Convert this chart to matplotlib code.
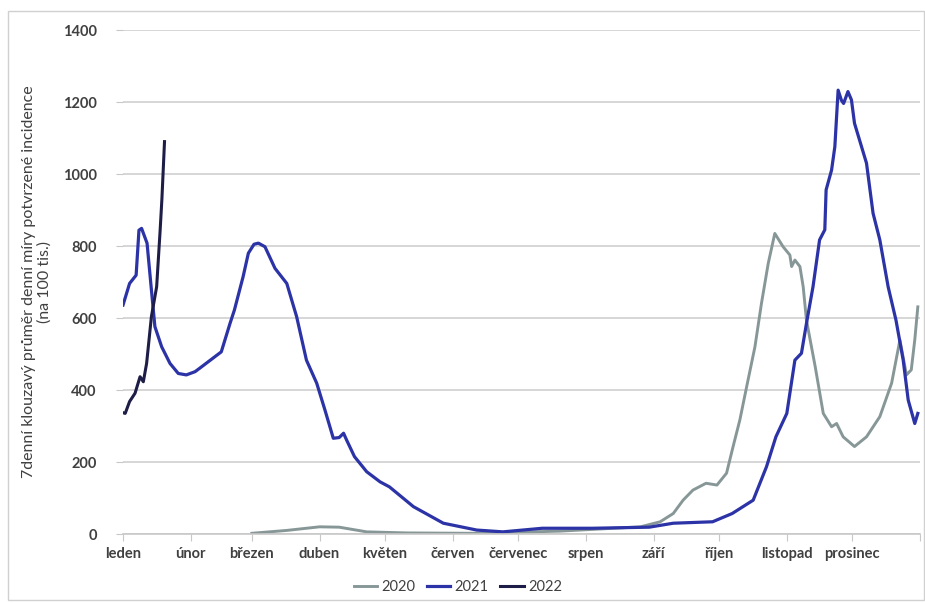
import matplotlib.pyplot as plt
import matplotlib.patches as patches

plt.rcParams['font.family'] = ['Lato', 'DejaVu Sans']

months = ['leden', 'únor', 'březen', 'duben', 'květen', 'červen', 'červenec',
          'srpen', 'září', 'říjen', 'listopad', 'prosinec']
month_start = [0, 31, 59, 90, 120, 151, 181, 212, 243, 273, 304, 334]

# den v roce / hodnota
days_2020 = [59, 75, 90, 99, 111.6, 130, 160, 200, 237, 246, 252, 256.5, 261, 267, 272,
             276.4, 279.4, 282.5, 285.6, 289.4, 292.4, 295.5, 298.5, 302.3, 305.4, 306.2,
             307.7, 310, 311.5, 313, 317, 320.7, 324.5, 326.8, 329.8, 335, 340.5, 346.6,
             352, 355.8, 358.8, 361, 362.6, 364]
vals_2020 = [2, 10, 20, 19, 6, 3, 2, 8, 20, 34, 57, 94, 122, 141, 136,
             169, 243, 317, 409, 520, 641, 752, 835, 798, 775, 743,
             761, 743, 687, 594, 465, 335, 298, 307, 270, 243, 270, 326,
             419, 539, 442, 456, 539, 631]

days_2021 = [0, 3, 6, 7.3, 8.5, 11, 13, 14.6, 17.7, 21.5, 25.3, 29, 33, 35, 40, 45, 49, 51,
             55, 57.4, 60, 62, 65, 69.6, 75, 79.5, 84, 88.7, 92.5, 96.3, 99, 101, 102.4, 106,
             111.6, 117.7, 122, 133, 146.7, 162, 174, 192, 215, 241, 252, 270, 279, 288.6,
             294.7, 299, 304, 307.7, 310.7, 313, 316, 319, 321.4, 322, 324.5, 326, 327.5, 329,
             330, 332, 333.6, 335, 340.5, 343.5, 346.6, 350.4, 354, 357.3, 359.6, 362.6, 364]
vals_2021 = [636, 696, 719, 844, 849, 808, 678, 576, 520, 474, 446, 442, 451, 460, 483, 506, 585, 622,
             715, 780, 805, 808, 798, 738, 696, 604, 483, 419, 344, 266, 268, 280, 261, 215,
             173, 145, 131, 76, 30, 11, 6, 16, 16, 19, 30, 34, 57, 94,
             187, 270, 335, 483, 502, 585, 687, 817, 845, 956, 1011, 1076, 1233, 1205,
             1196, 1229, 1206, 1141, 1030, 891, 817, 687, 594, 483, 372, 307, 335]

days_2022 = [0, 1, 3, 5.5, 7.8, 9.3, 10.8, 13, 15.4, 17, 17.8, 19]
vals_2022 = [337, 335, 368, 391, 437, 423, 474, 604, 687, 844, 930, 1090]

fig = plt.figure(figsize=(9.25, 6.03), dpi=100)
ax = fig.add_axes([0.133, 0.1144, 0.8616, 0.8358])

ax.plot(days_2020, vals_2020, color='#879797', lw=2.1, label='2020')
ax.plot(days_2021, vals_2021, color='#2c33a6', lw=2.3, label='2021')
ax.plot(days_2022, vals_2022, color='#1d1d48', lw=2.2, label='2022')

ax.set_xlim(0, 365)
ax.set_ylim(0, 1400)
ax.set_yticks(range(0, 1401, 200))
ax.set_xticks(month_start + [365])
ax.set_xticklabels(months + [''])
ax.grid(axis='y', color='#d0d0d0', lw=1.2)
ax.set_axisbelow(True)
for s in ['top', 'right', 'left']:
    ax.spines[s].set_visible(False)
ax.spines['bottom'].set_color('#c8c8c8')
ax.spines['bottom'].set_linewidth(1.2)
ax.tick_params(axis='x', length=5, color='#c8c8c8', labelsize=10.5, labelcolor='#404040', pad=4)
ax.tick_params(axis='y', length=5, color='#c8c8c8', labelsize=10.5, labelcolor='#404040', pad=14)
for t in ax.get_yticklabels():
    t.set_fontweight('bold')
for t in ax.get_xticklabels():
    t.set_fontweight('bold')

ax.set_ylabel('7denní klouzavý průměr denní míry potvrzené incidence\n(na 100 tis.)',
              fontsize=11.5, color='#404040', labelpad=8, linespacing=1.1)

ax.legend(loc='upper center', bbox_to_anchor=(0.42, -0.065), ncol=3, frameon=False,
          fontsize=10.5, handlelength=1.6, columnspacing=0.8, handletextpad=0.3,
          labelcolor='#404040')

fig.patches.append(patches.Rectangle((0.009, 0.005), 0.99, 0.977, transform=fig.transFigure,
                                     fill=False, edgecolor='#d0d0d0', lw=1))

fig.savefig('out.png', dpi=100)
